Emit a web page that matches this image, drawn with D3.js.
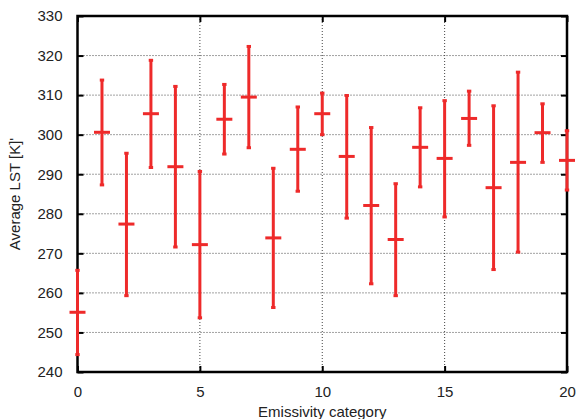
<!DOCTYPE html>
<html><head><meta charset="utf-8">
<script src="https://cdn.jsdelivr.net/npm/d3@7"></script>
<style>body{margin:0;background:#fff}svg{display:block}text{font-family:"Liberation Sans",Arial,Helvetica,sans-serif;fill:#222}</style>
</head><body>
<script>
const categories = [0,1,2,3,4,5,6,7,8,9,10,11,12,13,14,15,16,17,18,19,20];
const meanLST = [255.1,300.6,277.4,305.3,291.9,272.2,303.9,309.5,273.9,296.3,305.3,294.5,282.1,273.5,296.8,294.0,304.1,286.6,293.0,300.5,293.5];
const upperLST = [265.7,313.8,295.3,318.8,312.2,290.7,312.7,322.3,291.5,307.0,310.5,309.9,301.8,287.6,306.8,308.6,311.0,307.3,315.8,307.8,301.0];
const lowerLST = [244.4,287.3,259.3,291.7,271.6,253.7,295.1,296.7,256.3,285.7,300.0,278.9,262.3,259.3,286.8,279.2,297.3,265.9,270.3,293.0,286.0];
const xTicks = [0,5,10,15,20];
const yTicks = [240,250,260,270,280,290,300,310,320,330];

const W=582,H=419;
const L=77.5,R=567,T=16,B=372;
const svg=d3.select("body").append("svg").attr("width",W).attr("height",H);
const x=d3.scaleLinear().domain([0,20]).range([L,R]);
const y=d3.scaleLinear().domain([240,330]).range([B,T]);

// grid
const g=svg.append("g");
g.selectAll(".hg").data(yTicks.slice(1,-1)).join("line")
 .attr("x1",L).attr("x2",R).attr("y1",d=>y(d)).attr("y2",d=>y(d))
 .attr("stroke","#444").attr("stroke-width",1).attr("stroke-dasharray","1,2");
g.selectAll(".vg").data(xTicks.slice(1,-1)).join("line")
 .attr("y1",T).attr("y2",B).attr("x1",d=>x(d)).attr("x2",d=>x(d))
 .attr("stroke","#444").attr("stroke-width",1).attr("stroke-dasharray","1,2");

// axes
const tl=6;
const axL=svg.append("g").attr("transform",`translate(${L},0)`).call(d3.axisLeft(y).tickValues(yTicks).tickSize(-tl).tickPadding(9+tl));
const axB=svg.append("g").attr("transform",`translate(0,${B})`).call(d3.axisBottom(x).tickValues(xTicks).tickSize(-tl).tickPadding(8+tl));
const axR=svg.append("g").attr("transform",`translate(${R},0)`).call(d3.axisRight(y).tickValues(yTicks).tickSize(-tl).tickFormat(""));
const axT=svg.append("g").attr("transform",`translate(0,${T})`).call(d3.axisTop(x).tickValues(xTicks).tickSize(-tl).tickFormat(""));
[axL,axB,axR,axT].forEach(a=>{a.select(".domain").remove();a.selectAll(".tick line").attr("stroke","#000").attr("stroke-width",2);a.selectAll("text").attr("font-size",15).attr("fill","#222").style("font-family","'Liberation Sans',Arial,sans-serif");});

// frame
svg.append("rect").attr("x",L).attr("y",T).attr("width",R-L).attr("height",B-T).attr("fill","none").attr("stroke","#000").attr("stroke-width",2.5);

// error bars
const col="#ee2a2a";
const eb=svg.append("g");
categories.forEach((c,i)=>{
  const cx=x(c);
  eb.append("line").attr("x1",cx).attr("x2",cx).attr("y1",y(upperLST[i])).attr("y2",y(lowerLST[i])).attr("stroke",col).attr("stroke-width",3);
  [upperLST[i],lowerLST[i]].forEach(v=>eb.append("line").attr("x1",cx-2.2).attr("x2",cx+2.2).attr("y1",y(v)).attr("y2",y(v)).attr("stroke",col).attr("stroke-width",3));
  eb.append("line").attr("x1",cx-8).attr("x2",cx+8).attr("y1",y(meanLST[i])).attr("y2",y(meanLST[i])).attr("stroke",col).attr("stroke-width",3);
});

// labels
svg.append("text").attr("x",(L+R)/2).attr("y",417).attr("text-anchor","middle").attr("font-size",15).text("Emissivity category");
svg.append("text").attr("transform",`translate(20,${(T+B)/2}) rotate(-90)`).attr("text-anchor","middle").attr("font-size",15).text("Average LST [K]'");
</script>
</body></html>
